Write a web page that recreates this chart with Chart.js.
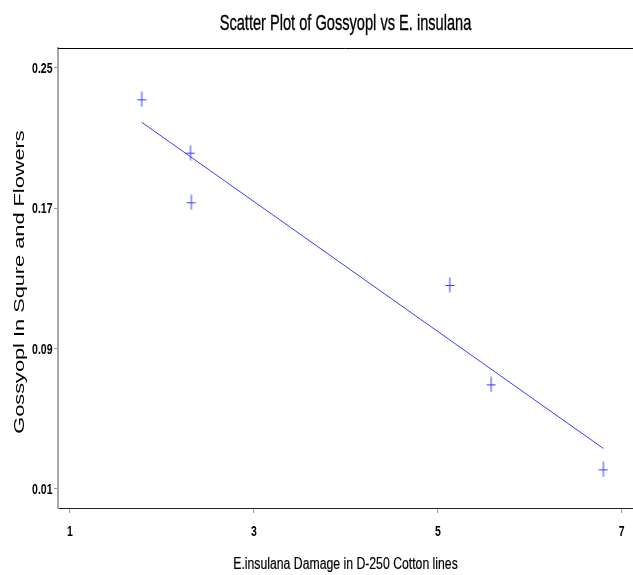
<!DOCTYPE html>
<html><head><meta charset="utf-8">
<script src="https://cdn.jsdelivr.net/npm/chart.js@4"></script>
<style>html,body{margin:0;padding:0;overflow:hidden;background:#fff}#wrap{width:640px;height:575px}</style>
</head><body><div id="wrap"><canvas id="c" width="640" height="575"></canvas></div>
<script>
const damage = [1.78, 2.31, 2.32, 5.13, 5.58, 6.80];
const gossypol = [0.232, 0.2016, 0.1733, 0.1262, 0.0696, 0.0212];
const fitX = [1.78, 6.80];
const fitY = [0.2189, 0.0331];
const xTicks = [1, 3, 5, 7];
const yTicks = [0.01, 0.09, 0.17, 0.25];
const xTickLabels = ['1', '3', '5', '7'];
const yTickLabels = ['0.01', '0.09', '0.17', '0.25'];
const titleText = 'Scatter Plot of Gossyopl vs E. insulana';
const xTitleText = 'E.insulana Damage in D-250 Cotton lines';
const yTitleText = 'Gossyopl In Squre and Flowers';

const BLUE = '#3b3bff';
const SANS = "'Liberation Sans', Arial, sans-serif";

function makeCross() {
  const c = document.createElement('canvas');
  c.width = 10; c.height = 16;
  const g = c.getContext('2d');
  g.strokeStyle = BLUE; g.lineWidth = 1;
  g.beginPath();
  g.moveTo(5, 0.5); g.lineTo(5, 15.5);
  g.moveTo(0.5, 8.5); g.lineTo(9.5, 8.5);
  g.stroke();
  return c;
}
const cross = makeCross();

function drawScaled(ctx, text, x, y, sx, font, align, stroke) {
  ctx.save();
  ctx.translate(x, y);
  ctx.scale(sx, 1);
  ctx.font = font;
  ctx.textAlign = align;
  ctx.textBaseline = 'alphabetic';
  ctx.fillText(text, 0, 0);
  if (stroke) { ctx.strokeStyle = '#000'; ctx.lineWidth = stroke; ctx.strokeText(text, 0, 0); }
  ctx.restore();
}

const textPlugin = {
  id: 'texts',
  afterDraw(chart) {
    const ctx = chart.ctx, a = chart.chartArea;
    const xs = chart.scales.x, ys = chart.scales.y;
    const cx = (a.left + a.right) / 2;
    ctx.save();
    // top frame line
    ctx.strokeStyle = '#000'; ctx.lineWidth = 1;
    ctx.beginPath(); ctx.moveTo(a.left, a.top + 0.5); ctx.lineTo(a.right, a.top + 0.5); ctx.stroke();
    ctx.fillStyle = '#000';
    // tick labels
    const tickFont = "bold 15px " + SANS;
    yTicks.forEach((v, i) => drawScaled(ctx, yTickLabels[i], a.left - 5.5, ys.getPixelForValue(v) + 5, 0.7, tickFont, 'right'));
    xTicks.forEach((v, i) => drawScaled(ctx, xTickLabels[i], xs.getPixelForValue(v), 536, 0.7, tickFont, 'center'));
    // titles
    drawScaled(ctx, titleText, cx, 29.5, 0.664, "22px " + SANS, 'center', 0.35);
    drawScaled(ctx, xTitleText, cx, 569, 0.765, "16px " + SANS, 'center', 0.2);
    ctx.translate(23.5, (a.top + a.bottom) / 2 + 4);
    ctx.rotate(-Math.PI / 2);
    ctx.scale(1.45, 1);
    ctx.font = "15px " + SANS;
    ctx.textAlign = 'center';
    ctx.fillText(yTitleText, 0, 0);
    ctx.restore();
  }
};

new Chart(document.getElementById('c'), {
  type: 'scatter',
  data: {
    datasets: [
      {
        data: damage.map((x, i) => ({x, y: gossypol[i]})),
        pointStyle: cross,
        pointRadius: 6,
        borderColor: BLUE,
        backgroundColor: BLUE
      },
      {
        type: 'line',
        data: fitX.map((x, i) => ({x, y: fitY[i]})),
        borderColor: BLUE,
        borderWidth: 1,
        pointRadius: 0,
        fill: false,
        showLine: true
      }
    ]
  },
  plugins: [textPlugin],
  options: {
    responsive: false,
    animation: false,
    events: [],
    layout: { padding: { top: 48, right: 6, left: 0, bottom: 0 } },
    plugins: { legend: { display: false }, title: { display: false }, tooltip: { enabled: false } },
    scales: {
      x: {
        type: 'linear',
        min: 0.8697, max: 7.1227,
        afterBuildTicks: s => { s.ticks = xTicks.map(v => ({value: v})); },
        afterFit: s => { s.height = 67; },
        grid: { drawOnChartArea: false, drawTicks: true, tickLength: 5, color: '#9a9a9a', lineWidth: 1 },
        border: { display: true, color: '#222', width: 1 },
        ticks: { display: false }
      },
      y: {
        type: 'linear',
        min: -0.00083, max: 0.2612,
        afterBuildTicks: s => { s.ticks = yTicks.map(v => ({value: v})); },
        afterFit: s => { s.width = 58; },
        grid: { drawOnChartArea: false, drawTicks: true, tickLength: 4, color: '#9a9a9a', lineWidth: 1 },
        border: { display: true, color: '#a8a8a8', width: 2 },
        ticks: { display: false }
      }
    }
  }
});
</script></body></html>
